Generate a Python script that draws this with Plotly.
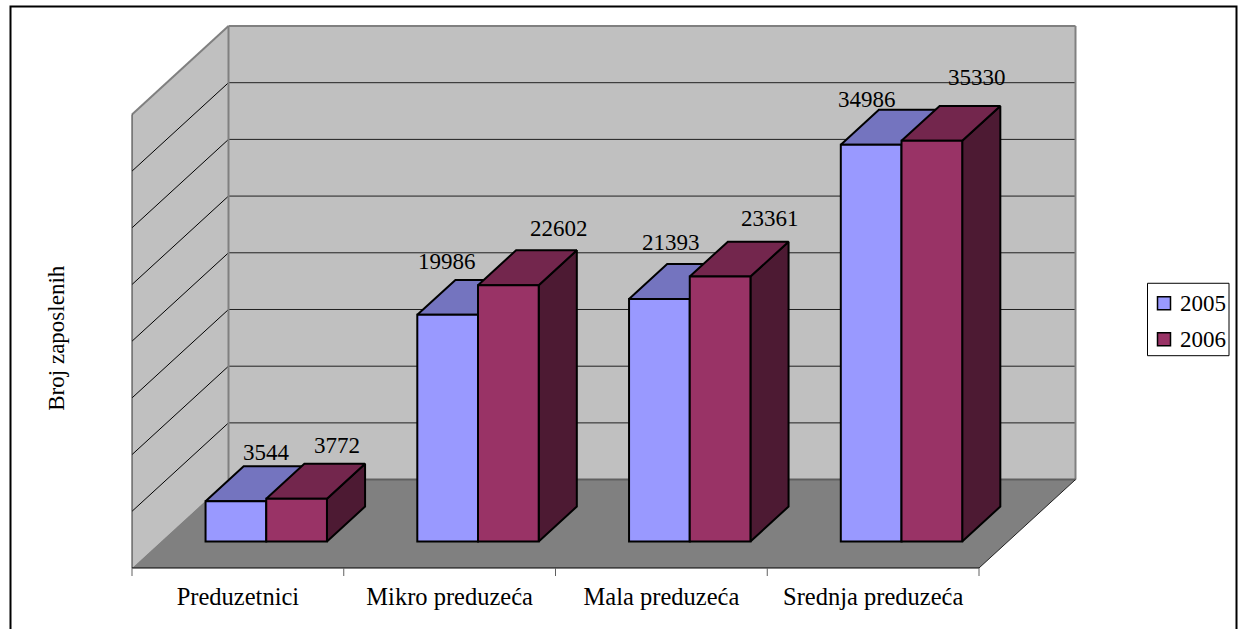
import plotly.graph_objects as go

# Data
categories = ['Preduzetnici', 'Mikro preduzeća', 'Mala preduzeća', 'Srednja preduzeća']
series_names = ['2005', '2006']
values_2005 = [3544, 19986, 21393, 34986]
values_2006 = [3772, 22602, 23361, 35330]
grid_values = [0, 5000, 10000, 15000, 20000, 25000, 30000, 35000, 40000]

# Colours: front, top, side
colors_2005 = ['#9999FF', '#7474BF', '#4D4D80']
colors_2006 = ['#993366', '#73264D', '#4D1A33']
WALL = '#C0C0C0'
FLOOR = '#808080'
FONT = 'Liberation Serif'

# Pixel scales of the plot area, used only to set up the oblique projection
CAT_PX = 211.75
PX_PER_UNIT = 0.01135
LEFT, RIGHT, TOP, BOTTOM = 132, 1076, 26, 568.5
DEPTH_X = 96.5 / CAT_PX      # floor depth, in category units
DEPTH_Y = 88.5 / PX_PER_UNIT  # floor depth, in value units
PAD = 2       # room round the walls so their edges are not clipped
PAD_BOTTOM = 10  # room under the floor for the tick marks
TICK_PX = 8

BAR_W = 60.7 / CAT_PX
GAP = 44.6 / CAT_PX
D0, D1 = 0.300, 0.695  # bar position inside the floor depth


def proj(x, y, d):
    # front coordinates plus a depth fraction -> axis coordinates
    return x + d * DEPTH_X, y + d * DEPTH_Y


def path(points):
    return 'M' + 'L'.join(f'{x},{y}' for x, y in points) + 'Z'


def line(p0, p1, color, width):
    return dict(type='line', xref='x', yref='y', layer='below',
                x0=p0[0], y0=p0[1], x1=p1[0], y1=p1[1],
                line=dict(color=color, width=width))


def px(x):
    # window pixel -> paper fraction
    return (x - (LEFT - PAD)) / (RIGHT - LEFT + 2 * PAD)


def py(y):
    return (BOTTOM + PAD_BOTTOM - y) / (BOTTOM - TOP + PAD + PAD_BOTTOM)


n = len(categories)
ymax = grid_values[-1]
shapes = []

# left wall, back wall, floor
shapes.append(dict(type='path', xref='x', yref='y', layer='below', fillcolor=WALL, line_width=0,
                   path=path([proj(0, 0, 0), proj(0, ymax, 0), proj(0, ymax, 1), proj(0, 0, 1)])))
shapes.append(dict(type='path', xref='x', yref='y', layer='below', fillcolor=WALL, line_width=0,
                   path=path([proj(0, 0, 1), proj(0, ymax, 1), proj(n, ymax, 1), proj(n, 0, 1)])))
shapes.append(dict(type='path', xref='x', yref='y', layer='below', fillcolor=FLOOR, line_width=0,
                   path=path([proj(0, 0, 0), proj(0, 0, 1), proj(n, 0, 1), proj(n, 0, 0)])))

# gridlines on both walls
for g in grid_values[1:-1]:
    shapes.append(line(proj(0, g, 0), proj(0, g, 1), 'black', 1))
    shapes.append(line(proj(0, g, 1), proj(n, g, 1), '#202020', 1))

# wall edges
shapes.append(line(proj(0, ymax, 0), proj(0, ymax, 1), FLOOR, 2))
shapes.append(line(proj(0, ymax, 1), proj(n, ymax, 1), FLOOR, 2))
shapes.append(line(proj(0, 0, 1), proj(0, ymax, 1), FLOOR, 2))
shapes.append(line(proj(n, 0, 1), proj(n, ymax, 1), FLOOR, 2))
shapes.append(line(proj(0, 0, 1), proj(n, 0, 1), '#606060', 2))
shapes.append(line(proj(0, 0, 0), proj(0, ymax, 0), '#303030', 1))
shapes.append(line(proj(0, 0, 0), proj(n, 0, 0), 'black', 1))
shapes.append(line(proj(n, 0, 0), proj(n, 0, 1), '#202020', 1))

# category tick marks
for i in range(n + 1):
    shapes.append(line((i, 0), (i, -TICK_PX / PX_PER_UNIT), '#606060', 1))

# outer frame, open at the bottom of the picture
shapes.append(dict(type='path', xref='paper', yref='paper', layer='above', line=dict(color='black', width=2),
                   path=f'M{px(10.5)},-0.2L{px(10.5)},{py(6.5)}L{px(1236.5)},{py(6.5)}L{px(1236.5)},-0.2'))

fig = go.Figure()

# side and top faces go on the lower axes, front faces on the overlay axes above them
for s, (vals, cols) in enumerate([(values_2005, colors_2005), (values_2006, colors_2006)]):
    for i, v in enumerate(vals):
        x0 = i + GAP + s * BAR_W
        x1 = x0 + BAR_W
        side = [proj(x1, 0, D0), proj(x1, v, D0), proj(x1, v, D1), proj(x1, 0, D1), proj(x1, 0, D0)]
        top = [proj(x0, v, D0), proj(x1, v, D0), proj(x1, v, D1), proj(x0, v, D1), proj(x0, v, D0)]
        for face, col in [(side, cols[2]), (top, cols[1])]:
            fig.add_trace(go.Scatter(
                x=[p[0] for p in face], y=[p[1] for p in face],
                mode='lines', fill='toself', fillcolor=col,
                line=dict(color='black', width=2),
                showlegend=False, hoverinfo='skip', xaxis='x', yaxis='y'))

for s, (name, vals, cols) in enumerate([(series_names[0], values_2005, colors_2005),
                                        (series_names[1], values_2006, colors_2006)]):
    fig.add_trace(go.Bar(
        name=name,
        x=[i + GAP + (s + 0.5) * BAR_W + D0 * DEPTH_X for i in range(n)],
        y=vals,
        base=[D0 * DEPTH_Y] * n,
        width=BAR_W,
        marker=dict(color=cols[0], line=dict(color='black', width=2)),
        showlegend=False,
        xaxis='x2', yaxis='y2'))

# value labels, nudged by hand the way the original sits
label_dx = [[31, -1, 11.5, -4], [40, 51, 50, 45]]
label_dy = [[48.5, 53, 56, 45], [53, 56.5, 58, 63]]
annotations = []
for s, vals in enumerate([values_2005, values_2006]):
    for i, v in enumerate(vals):
        x = i + GAP + (s + 0.5) * BAR_W + D0 * DEPTH_X
        annotations.append(dict(x=x, y=v + D0 * DEPTH_Y, xref='x2', yref='y2', text=str(v), showarrow=False,
                                xanchor='center', yanchor='middle',
                                xshift=label_dx[s][i], yshift=label_dy[s][i],
                                font=dict(family=FONT, size=23, color='black')))

annotations.append(dict(x=px(57), y=py(339), xref='paper', yref='paper', xanchor='center', yanchor='middle',
                        text='Broj zaposlenih', textangle=-90, showarrow=False,
                        font=dict(family=FONT, size=23, color='black')))

# legend box drawn by hand: plotly's own swatch column is wider than the original's
shapes.append(dict(type='rect', xref='paper', yref='paper', layer='above', fillcolor='white',
                   line=dict(color='black', width=1), x0=px(1147.5), x1=px(1229), y0=py(283.5), y1=py(356)))
for name, cols, y_mid in [(series_names[0], colors_2005, 303.5), (series_names[1], colors_2006, 339.5)]:
    shapes.append(dict(type='rect', xref='paper', yref='paper', layer='above', fillcolor=cols[0],
                       line=dict(color='black', width=1.5),
                       x0=px(1157.5), x1=px(1170.5), y0=py(y_mid - 6.5), y1=py(y_mid + 6.5)))
    annotations.append(dict(x=px(1178), y=py(y_mid), xref='paper', yref='paper', xanchor='left', yanchor='middle',
                            text=name, showarrow=False, font=dict(family=FONT, size=23, color='black')))

x_range = [-PAD / CAT_PX, (RIGHT - LEFT + PAD) / CAT_PX]
y_range = [-PAD_BOTTOM / PX_PER_UNIT, (BOTTOM - TOP + PAD) / PX_PER_UNIT]

fig.update_layout(
    width=1238, height=629,
    margin=dict(l=LEFT - PAD, r=1238 - RIGHT - PAD, t=TOP - PAD, b=629 - BOTTOM - PAD_BOTTOM, autoexpand=False),
    paper_bgcolor='white', plot_bgcolor='rgba(0,0,0,0)',
    barmode='overlay',
    showlegend=False,
    shapes=shapes,
    annotations=annotations,
    font=dict(family=FONT, size=23, color='black'),
    xaxis=dict(range=x_range, showticklabels=False, ticks='', showgrid=False, zeroline=False, showline=False),
    yaxis=dict(range=y_range, visible=False),
    xaxis2=dict(range=x_range, overlaying='x', anchor='y2',
                tickvals=[i + 0.5 for i in range(n)], ticktext=categories, ticks='', ticklen=0,
                ticklabelstandoff=1,
                tickfont=dict(family=FONT, size=24.5), showgrid=False, zeroline=False, showline=False),
    yaxis2=dict(range=y_range, overlaying='y', anchor='x2', visible=False),
)

fig.write_html('out.html', config={'displayModeBar': False},
               post_script="document.body.style.margin='0';document.body.style.overflow='hidden';")
